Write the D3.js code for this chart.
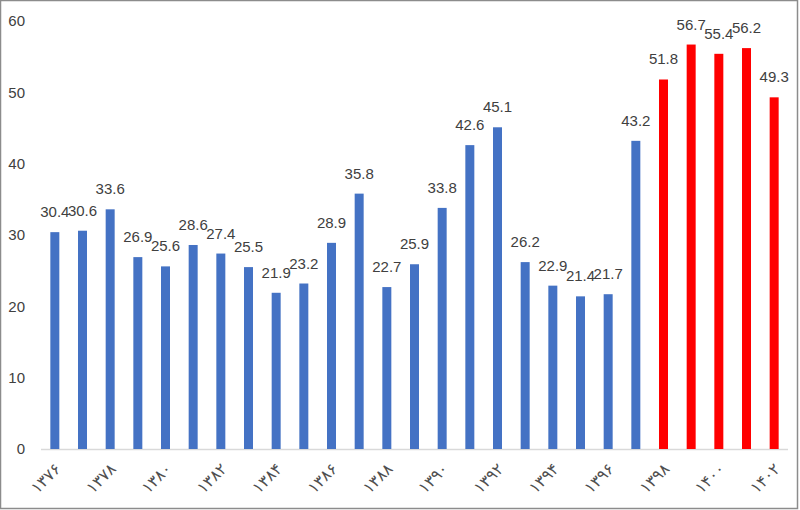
<!DOCTYPE html>
<html><head><meta charset="utf-8">
<script src="https://cdn.jsdelivr.net/npm/d3@7"></script>
<style>body{margin:0;background:#fff}svg{display:block}</style>
</head><body><svg id="c" width="800" height="510"></svg>
<script>
const years = ["۱۳۷۶","۱۳۷۷","۱۳۷۸","۱۳۷۹","۱۳۸۰","۱۳۸۱","۱۳۸۲","۱۳۸۳","۱۳۸۴","۱۳۸۵","۱۳۸۶","۱۳۸۷","۱۳۸۸","۱۳۸۹","۱۳۹۰","۱۳۹۱","۱۳۹۲","۱۳۹۳","۱۳۹۴","۱۳۹۵","۱۳۹۶","۱۳۹۷","۱۳۹۸","۱۳۹۹","۱۴۰۰","۱۴۰۱","۱۴۰۲"];
const values = [30.4,30.6,33.6,26.9,25.6,28.6,27.4,25.5,21.9,23.2,28.9,35.8,22.7,25.9,33.8,42.6,45.1,26.2,22.9,21.4,21.7,43.2,51.8,56.7,55.4,56.2,49.3];
const highlighted = ["۱۳۹۸","۱۳۹۹","۱۴۰۰","۱۴۰۱","۱۴۰۲"];
const yTicks = [0,10,20,30,40,50,60];

const svg = d3.select("#c");
svg.append("rect").attr("x",0.5).attr("y",0.5).attr("width",797).attr("height",508)
  .attr("fill","#fff").attr("stroke","#8c8c8c").attr("stroke-width",1.5);

const x = d3.scaleBand().domain(years).range([41,788]).paddingInner(0.675).paddingOuter(0.3375);
const y = d3.scaleLinear().domain([0,60]).range([449,21]);

const data = years.map((yr,i)=>({yr, v: values[i]}));

svg.append("g").selectAll("text").data(yTicks).join("text")
  .attr("x",25).attr("y",d=>y(d)).attr("dy","0.35em").attr("text-anchor","end")
  .attr("font-family","Liberation Sans, Arial, sans-serif").attr("font-size",15).attr("fill","#404040")
  .text(d=>d);

svg.append("line").attr("x1",41).attr("x2",788).attr("y1",y(0)+0.5).attr("y2",y(0)+0.5)
  .attr("stroke","#d9d9d9").attr("stroke-width",1.5);

svg.append("g").selectAll("rect").data(data).join("rect")
  .attr("x",d=>x(d.yr)).attr("width",x.bandwidth())
  .attr("y",d=>y(d.v)).attr("height",d=>y(0)-y(d.v))
  .attr("fill",d=>highlighted.includes(d.yr)?"#ff0000":"#4472c4");

svg.append("g").selectAll("text").data(data).join("text")
  .attr("x",d=>x(d.yr)+x.bandwidth()/2).attr("y",d=>y(d.v)-15)
  .attr("text-anchor","middle")
  .attr("font-family","Liberation Sans, Arial, sans-serif").attr("font-size",15).attr("fill","#404040")
  .text(d=>d.v.toFixed(1));

svg.append("g").selectAll("text").data(years.filter((d,i)=>i%2===0)).join("text")
  .attr("transform",d=>`translate(${x(d)+x.bandwidth()/2+3},${466}) rotate(-45)`)
  .attr("text-anchor","end").attr("dy","0.35em")
  .attr("font-family","DejaVu Sans, sans-serif").attr("font-size",16).attr("fill","#505050")
  .attr("direction","ltr").style("unicode-bidi","bidi-override")
  .text(d=>d);
</script></body></html>
